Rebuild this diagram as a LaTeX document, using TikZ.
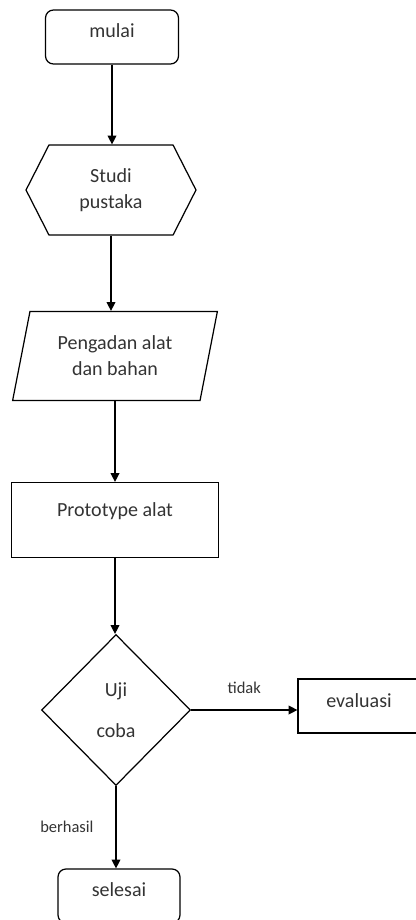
\documentclass[tikz,border=0pt]{standalone}
\usepackage{fontspec}
\setmainfont{Carlito}
\usetikzlibrary{arrows.meta}
\usetikzlibrary{shapes.geometric}
\usetikzlibrary{shapes.symbols}

\begin{document}
\begin{tikzpicture}[x=0.02cm, y=-0.02cm, line width=0.7pt,
  font=\fontsize{11.4}{14.7}\selectfont, text=black!80,
  terminal/.style={draw=black, rounded corners=4.5pt, minimum width=2.66cm, minimum height=1.08cm, text height=8pt, text depth=8pt},
  prep/.style={draw=black, signal, signal to=west and east, signal pointer angle=126, minimum width=3.4cm, minimum height=1.8cm, align=center},
  io/.style={draw=black, trapezium, trapezium left angle=76, trapezium right angle=104, trapezium stretches=true, minimum width=4.12cm, minimum height=1.78cm, align=center},
  process/.style={draw=black, rectangle, minimum width=4.14cm, minimum height=1.5cm, text height=7pt, text depth=11pt},
  decision/.style={draw=black, diamond, minimum width=2.98cm, minimum height=3.02cm, inner sep=0pt, align=center},
  flow/.style={-{Triangle[length=5pt,width=5pt]}},
  lbl/.style={font=\fontsize{9.4}{11}\selectfont}]

\useasboundingbox (0,0) rectangle (416,920);

\node[terminal] (mulai) at (112,37) {mulai};
\node[prep] (studi) at (111,190) {Studi\\pustaka};
\node[io] (alat) at (115,356) {Pengadan alat\\dan bahan};
\node[process] (proto) at (115,520) {Prototype alat};
\node[decision] (uji) at (116,710) {Uji\\[9pt]coba};
\node[process, minimum width=2.44cm, minimum height=1.08cm, text height=8pt, text depth=6pt] (eval) at (359,706) {evaluasi};
\node[terminal, minimum width=2.44cm] (selesai) at (119,896) {selesai};

\draw[flow] (mulai.south) -- (mulai.south |- studi.north);
\draw[flow] (studi.south) -- (studi.south |- alat.north);
\draw[flow] (alat.south) -- (alat.south |- proto.north);
\draw[flow] (proto.south) -- (proto.south |- uji.north);
\draw[flow] (uji.east) -- node[lbl, above=0.2cm] {tidak} (uji.east -| eval.west);
\draw[flow] (uji.south) -- node[lbl, left=0.32cm] {berhasil} (uji.south |- selesai.north);

\end{tikzpicture}
\end{document}
